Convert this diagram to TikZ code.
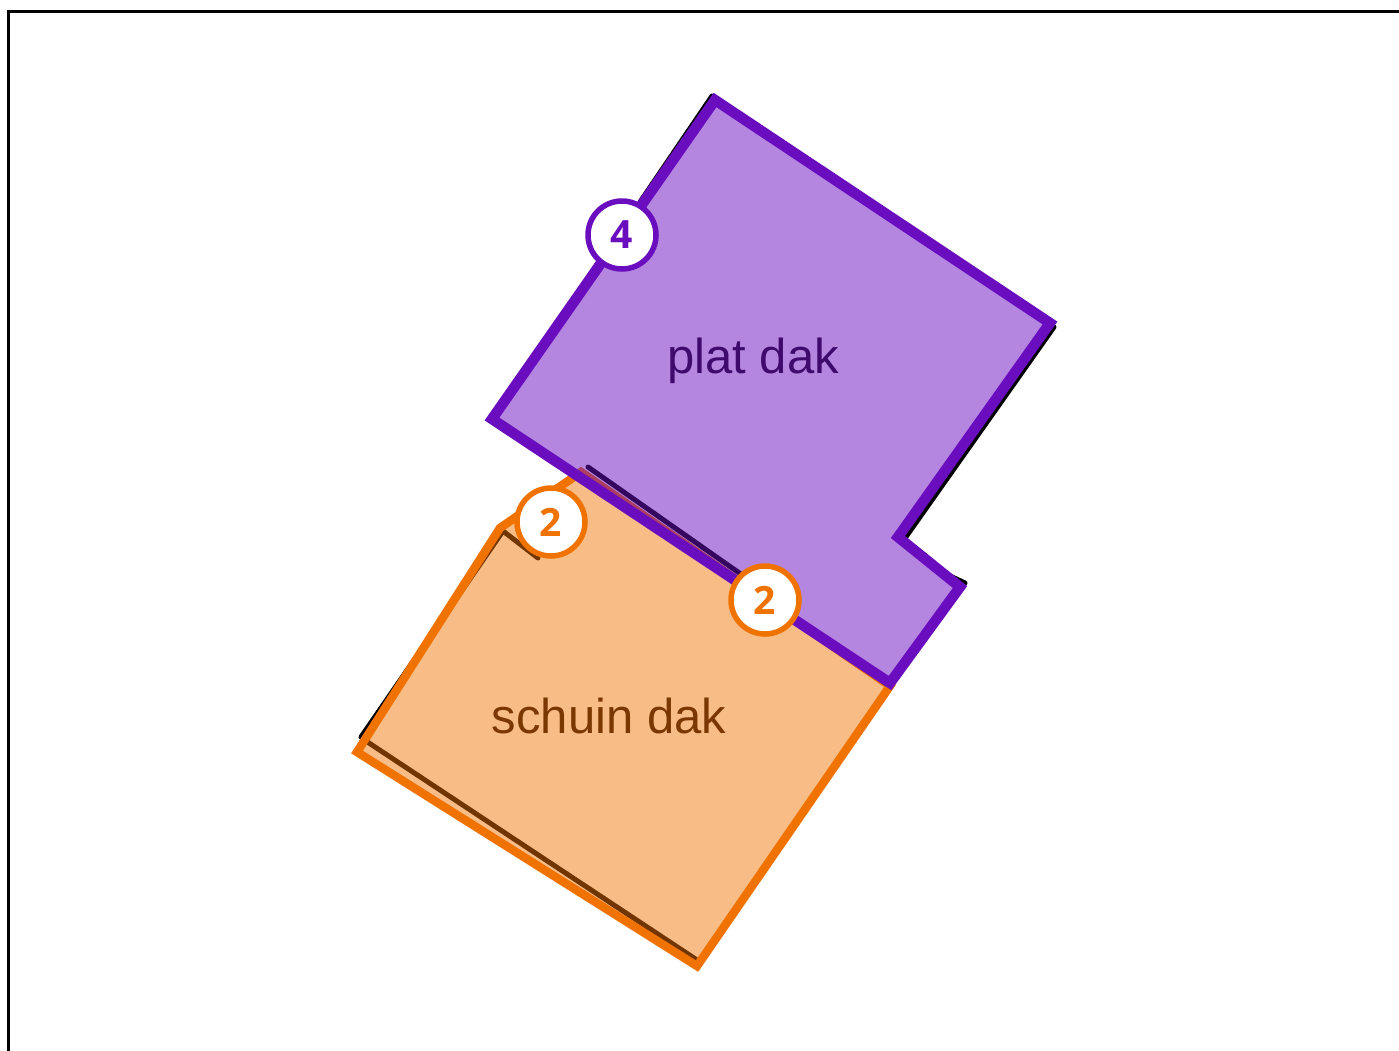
\documentclass[tikz,border=0pt]{standalone}
\usepackage{fontspec}
\setmainfont{Liberation Sans}
\newfontfamily\badgefont{Open Sans}[BoldFont={* Bold}]
\definecolor{purp}{RGB}{106,13,191}
\definecolor{orng}{RGB}{240,114,0}
\definecolor{purptext}{RGB}{62,10,108}
\definecolor{orngtext}{RGB}{122,56,0}
\tikzset{
  frameline/.style={line width=3pt, draw=black},
  shadowline/.style={line width=5pt, draw=black, line cap=round, line join=round},
  flatroof/.style={draw=purp, line width=10.5pt, line join=miter, fill=purp, fill opacity=0.5, draw opacity=1},
  slantroof/.style={draw=orng, line width=8.5pt, line join=miter, fill=orng, fill opacity=0.47, draw opacity=1},
  roofname/.style={font=\fontsize{49}{50}\selectfont, anchor=base},
  badge/.style={circle, fill=white, line width=5.5pt, minimum size=68pt, inner sep=0pt,
    font=\badgefont\bfseries\fontsize{39}{39}\selectfont},
}
\begin{document}
\begin{tikzpicture}[x=1pt, y=-1pt]
\useasboundingbox (0,0) rectangle (1399,1050);
% frame
\draw[frameline] (8,1052) -- (8,11) -- (1401,11);

% shadow lines of the underlying outlines
\draw[shadowline] (712,96) -- (640,202);
\draw[shadowline] (1054,327) -- (903,541);
\draw[shadowline] (948,575) -- (965,583);
\draw[shadowline] (588,467) -- (745,577);
\draw[shadowline] (361,737) -- (503,531) -- (538,558);
\draw[shadowline] (366,741) -- (697,960);

% slanted roof (orange)
\path[slantroof] (357,752) -- (500,528) -- (581,472) -- (890,686) -- (697,966) -- cycle;

% flat roof (purple)
\path[flatroof] (715,100) -- (1050,323) -- (898,537) -- (960,587) -- (890,683) -- (492,419) -- cycle;

% labels
\node[roofname, text=purptext] (plat) at (753,373) {plat dak};
\node[roofname, text=orngtext] (schuin) at (609,733) {schuin dak};

% badges
\node[badge, draw=purp, text=purp] (b4) at (622,235) {4};
\node[badge, draw=orng, text=orng] (b2a) at (551,522) {2};
\node[badge, draw=orng, text=orng] (b2b) at (765,600) {2};
\end{tikzpicture}
\end{document}
